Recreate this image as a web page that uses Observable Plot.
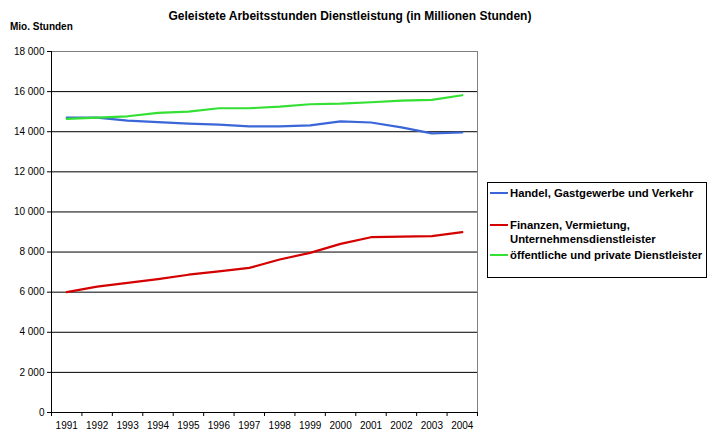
<!DOCTYPE html>
<html><head><meta charset="utf-8">
<script src="https://cdn.jsdelivr.net/npm/d3@7"></script>
<script src="https://cdn.jsdelivr.net/npm/@observablehq/plot@0.6"></script>
<style>
body{margin:0;background:#fff;font-family:"Liberation Sans",Arial,sans-serif;}
#wrap{position:relative;width:711px;height:434px;}
#title{position:absolute;left:0;width:700px;top:9px;text-align:center;font-size:12px;font-weight:bold;}
#ylab{position:absolute;left:10px;top:21px;font-size:10px;font-weight:bold;}
#legend{position:absolute;left:487px;top:182px;width:220px;height:96px;border:1px solid #000;box-sizing:border-box;font-size:11.3px;font-weight:bold;}
.item{position:absolute;left:2px;display:flex;align-items:flex-start;line-height:14px;}
.sw{width:18px;height:2px;margin-top:6px;margin-right:2px;flex:none;}
</style></head>
<body>
<div id="wrap">
<div id="chart"></div>
<div id="title">Geleistete Arbeitsstunden Dienstleistung (in Millionen Stunden)</div>
<div id="ylab">Mio. Stunden</div>
<div id="legend"></div>
</div>
<script>
const years = [1991,1992,1993,1994,1995,1996,1997,1998,1999,2000,2001,2002,2003,2004];
const handel = [14700,14700,14550,14480,14400,14350,14270,14270,14320,14520,14460,14220,13920,13960];
const finanzen = [6000,6280,6460,6650,6870,7040,7210,7630,7960,8410,8740,8770,8790,8990];
const oeffentlich = [14640,14700,14770,14940,15000,15170,15170,15250,15370,15400,15470,15550,15590,15820];
const seriesNames = ["Handel, Gastgewerbe und Verkehr","Finanzen, Vermietung, Unternehmensdienstleister","öffentliche und private Dienstleister"];
const seriesColors = ["#3a66d8","#d40000","#33e033"];
const yTicks = [0,2000,4000,6000,8000,10000,12000,14000,16000,18000];

const seriesValues = [handel, finanzen, oeffentlich];
const rows = [];
seriesNames.forEach((s,i)=>years.forEach((y,j)=>rows.push({series:s, year:y, value:seriesValues[i][j]})));
const bounds = years.map(y=>y-0.5).concat([years[years.length-1]+0.5]);
const fmt = v => d3.format(",")(v).replace(/,/g," ");

const chart = Plot.plot({
  width:711, height:434,
  marginLeft:51, marginRight:234, marginTop:51, marginBottom:22,
  style:{fontFamily:"'Liberation Sans', Arial, sans-serif", fontSize:"10px", background:"#fff", color:"#000"},
  x:{type:"linear", domain:[bounds[0], bounds[bounds.length-1]]},
  y:{type:"linear", domain:[0,18000]},
  color:{domain:seriesNames, range:seriesColors},
  marks:[
    Plot.ruleY(yTicks.filter(d=>d>0 && d<18000), {stroke:"#000", strokeWidth:1}),
    Plot.ruleY([18000], {stroke:"#808080"}),
    Plot.ruleX([bounds[bounds.length-1]], {stroke:"#808080"}),
    Plot.ruleY([0], {stroke:"#000"}),
    Plot.ruleX([bounds[0]], {stroke:"#000"}),
    Plot.ruleX(bounds, {x:d=>d, y1:0, y2:0, insetBottom:-4, stroke:"#000"}),
    Plot.axisY({ticks:yTicks, tickFormat:fmt, tickSize:4, tickPadding:3, stroke:"#000", label:null}),
    Plot.axisX({ticks:years, tickFormat:d=>String(d), tickSize:0, tickPadding:9, label:null}),
    Plot.line(rows, {x:"year", y:"value", z:"series", stroke:"series", strokeWidth:2.2, curve:"linear"})
  ]
});
document.getElementById("chart").appendChild(chart);

const leg = document.getElementById("legend");
const tops = [3, 35, 65];
seriesNames.forEach((s,i)=>{
  const it = document.createElement("div");
  it.className="item"; it.style.top = tops[i]+"px";
  const sw = document.createElement("div"); sw.className="sw"; sw.style.background = seriesColors[i];
  const tx = document.createElement("div");
  tx.innerHTML = i===1 ? "Finanzen, Vermietung,<br>Unternehmensdienstleister" : s;
  tx.style.whiteSpace="nowrap";
  it.appendChild(sw); it.appendChild(tx); leg.appendChild(it);
});
</script>
</body></html>
